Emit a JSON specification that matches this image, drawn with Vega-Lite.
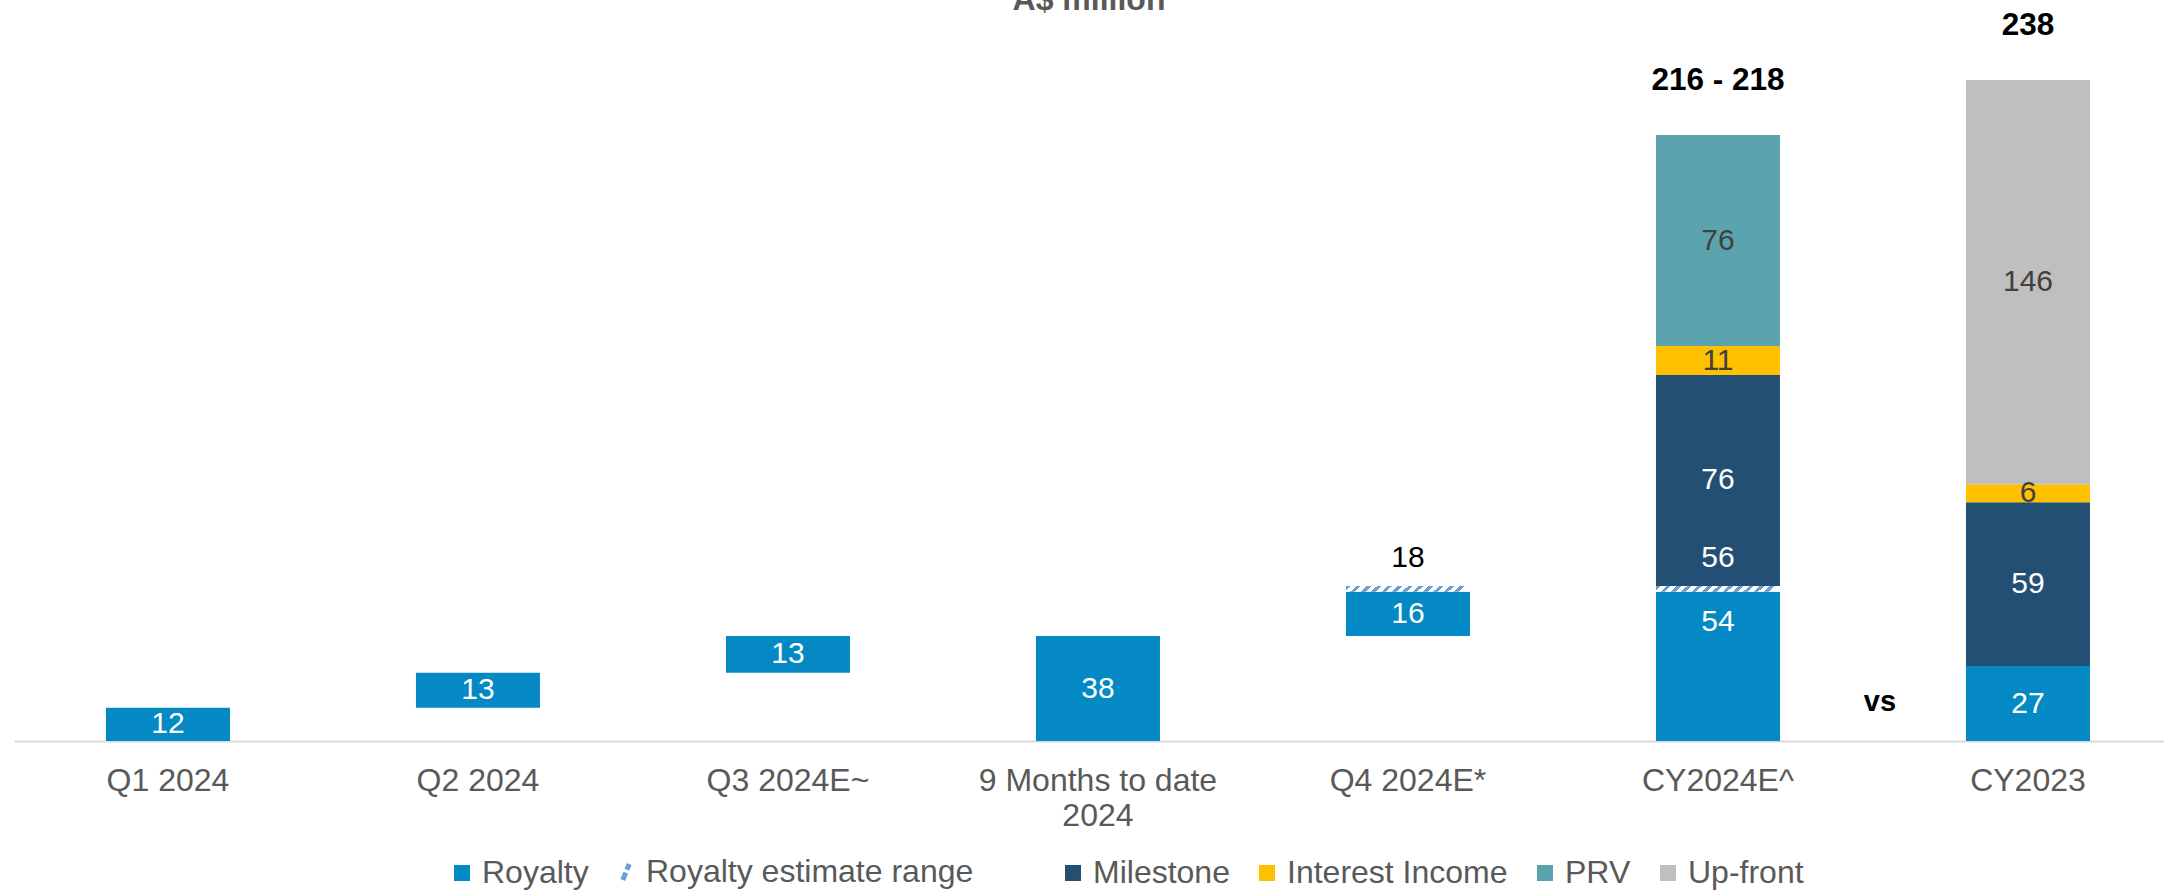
{
  "$schema": "https://vega.github.io/schema/vega-lite/v6.json",
  "width": 2150,
  "height": 741,
  "autosize": "none",
  "padding": {"left": 14, "top": 0, "right": 0, "bottom": 150},
  "title": {"text": "A$ million", "fontSize": 32, "font": "Liberation Sans", "fontWeight": "bold", "color": "#595959", "anchor": "middle", "offset": -17},
  "config": {"view": {"stroke": null}, "font": "Liberation Sans"},
  "datasets": {
    "bars": [
      {"cat": "Q1 2024", "series": "Royalty", "start": 0, "end": 12, "label": "12"},
      {"cat": "Q2 2024", "series": "Royalty", "start": 12, "end": 24.6, "label": "13"},
      {"cat": "Q3 2024E~", "series": "Royalty", "start": 24.6, "end": 37.8, "label": "13"},
      {"cat": "9 Months to date 2024", "series": "Royalty", "start": 0, "end": 37.8, "label": "38"},
      {"cat": "Q4 2024E*", "series": "Royalty", "start": 37.8, "end": 53.7, "label": "16"},
      {"cat": "CY2024E^", "series": "Royalty", "start": 0, "end": 53.7, "label": "54"},
      {"cat": "CY2024E^", "series": "Milestone", "start": 55.8, "end": 131.8, "label": "76"},
      {"cat": "CY2024E^", "series": "Interest Income", "start": 131.8, "end": 142.2, "label": "11"},
      {"cat": "CY2024E^", "series": "PRV", "start": 142.2, "end": 218.2, "label": "76"},
      {"cat": "CY2023", "series": "Royalty", "start": 0, "end": 27, "label": "27"},
      {"cat": "CY2023", "series": "Milestone", "start": 27, "end": 86, "label": "59"},
      {"cat": "CY2023", "series": "Interest Income", "start": 86, "end": 92.4, "label": "6"},
      {"cat": "CY2023", "series": "Up-front", "start": 92.4, "end": 238, "label": "146"}
    ],
    "range": [
      {"cat": "Q4 2024E*", "start": 53.7, "end": 55.8, "label": "18"},
      {"cat": "CY2024E^", "start": 53.7, "end": 55.8, "label": "56"}
    ],
    "totals": [
      {"cat": "CY2024E^", "value": 218.2, "label": "216 - 218"},
      {"cat": "CY2023", "value": 238, "label": "238"}
    ],
    "notes": [
      {"cat": "CY2023", "label": "vs"}
    ]
  },
  "encoding": {
    "x": {
      "field": "cat",
      "type": "nominal",
      "scale": {
        "domain": ["Q1 2024", "Q2 2024", "Q3 2024E~", "9 Months to date 2024", "Q4 2024E*", "CY2024E^", "CY2023"],
        "paddingInner": 0.6,
        "paddingOuter": 0.2677,
        "align": 0.554
      },
      "axis": {
        "title": null,
        "labelAngle": 0,
        "labelFontSize": 32,
        "labelColor": "#595959",
        "labelFont": "Liberation Sans",
        "ticks": false,
        "domainColor": "#D9D9D9",
        "domainWidth": 2,
        "labelPadding": 24,
        "labelLineHeight": 35,
        "labelLimit": 0,
        "labelExpr": "datum.value == '9 Months to date 2024' ? ['9 Months to date', '2024'] : datum.value"
      }
    }
  },
  "layer": [
    {
      "data": {"name": "bars"},
      "mark": {"type": "bar"},
      "encoding": {
        "y": {"field": "start", "type": "quantitative", "scale": {"domain": [0, 266.8], "nice": false}, "axis": null},
        "y2": {"field": "end"},
        "color": {
          "field": "series",
          "type": "nominal",
          "scale": {
            "domain": ["Royalty", "Royalty estimate range", "Milestone", "Interest Income", "PRV", "Up-front"],
            "range": ["#0489C4", "#6A9FD5", "#234F75", "#FFC000", "#5BA3AF", "#BFBFBF"]
          },
          "legend": {
            "title": null,
            "orient": "none",
            "direction": "horizontal",
            "legendX": 432,
            "legendY": 856,
            "symbolType": "square",
            "symbolSize": 256,
            "symbolStrokeWidth": 0,
            "labelFontSize": 32,
            "labelFont": "Liberation Sans",
            "labelColor": "#595959",
            "labelOffset": 4,
            "columnPadding": 21,
            "labelLimit": 0,
            "labelExpr": "datum.value == 'Royalty estimate range' ? datum.label + '\u00a0\u00a0\u00a0\u00a0\u00a0\u00a0\u00a0\u200b' : datum.label",
            "encode": {
              "symbols": {
                "update": {
                  "shape": {"signal": "datum.value === 'Royalty estimate range' ? 'M-0.4,1L0.4,-1' : 'square'"},
                  "strokeWidth": {"signal": "datum.value === 'Royalty estimate range' ? 5 : 0"},
                  "stroke": {"signal": "datum.value === 'Royalty estimate range' ? '#6A9FD5' : 'transparent'"},
                  "strokeDash": {"signal": "datum.value === 'Royalty estimate range' ? [8, 3] : [1, 0]"},
                  "fillOpacity": {"signal": "datum.value === 'Royalty estimate range' ? 0 : 1"}
                }
              }
            }
          }
        }
      }
    },
    {
      "data": {"name": "range"},
      "mark": {
        "type": "bar",
        "fill": {
          "gradient": "linear", "x1": 0, "y1": 0, "x2": 1, "y2": 0.05,
          "stops": [
            {"offset": 0, "color": "#6A9FD5"}, {"offset": 0.0375, "color": "#6A9FD5"}, {"offset": 0.0375, "color": "#FFFFFF"}, {"offset": 0.0833, "color": "#FFFFFF"},
            {"offset": 0.0833, "color": "#6A9FD5"}, {"offset": 0.1208, "color": "#6A9FD5"}, {"offset": 0.1208, "color": "#FFFFFF"}, {"offset": 0.1667, "color": "#FFFFFF"},
            {"offset": 0.1667, "color": "#6A9FD5"}, {"offset": 0.2042, "color": "#6A9FD5"}, {"offset": 0.2042, "color": "#FFFFFF"}, {"offset": 0.25, "color": "#FFFFFF"},
            {"offset": 0.25, "color": "#6A9FD5"}, {"offset": 0.2875, "color": "#6A9FD5"}, {"offset": 0.2875, "color": "#FFFFFF"}, {"offset": 0.3333, "color": "#FFFFFF"},
            {"offset": 0.3333, "color": "#6A9FD5"}, {"offset": 0.3708, "color": "#6A9FD5"}, {"offset": 0.3708, "color": "#FFFFFF"}, {"offset": 0.4167, "color": "#FFFFFF"},
            {"offset": 0.4167, "color": "#6A9FD5"}, {"offset": 0.4542, "color": "#6A9FD5"}, {"offset": 0.4542, "color": "#FFFFFF"}, {"offset": 0.5, "color": "#FFFFFF"},
            {"offset": 0.5, "color": "#6A9FD5"}, {"offset": 0.5375, "color": "#6A9FD5"}, {"offset": 0.5375, "color": "#FFFFFF"}, {"offset": 0.5833, "color": "#FFFFFF"},
            {"offset": 0.5833, "color": "#6A9FD5"}, {"offset": 0.6208, "color": "#6A9FD5"}, {"offset": 0.6208, "color": "#FFFFFF"}, {"offset": 0.6667, "color": "#FFFFFF"},
            {"offset": 0.6667, "color": "#6A9FD5"}, {"offset": 0.7042, "color": "#6A9FD5"}, {"offset": 0.7042, "color": "#FFFFFF"}, {"offset": 0.75, "color": "#FFFFFF"},
            {"offset": 0.75, "color": "#6A9FD5"}, {"offset": 0.7875, "color": "#6A9FD5"}, {"offset": 0.7875, "color": "#FFFFFF"}, {"offset": 0.8333, "color": "#FFFFFF"},
            {"offset": 0.8333, "color": "#6A9FD5"}, {"offset": 0.8708, "color": "#6A9FD5"}, {"offset": 0.8708, "color": "#FFFFFF"}, {"offset": 0.9167, "color": "#FFFFFF"},
            {"offset": 0.9167, "color": "#6A9FD5"}, {"offset": 0.9542, "color": "#6A9FD5"}, {"offset": 0.9542, "color": "#FFFFFF"}, {"offset": 1, "color": "#FFFFFF"}
          ]
        }
      },
      "encoding": {
        "y": {"field": "start", "type": "quantitative", "scale": {"domain": [0, 266.8], "nice": false}, "axis": null},
        "y2": {"field": "end"}
      }
    },
    {
      "data": {"name": "bars"},
      "transform": [
        {"filter": "!(datum.cat == 'CY2024E^' && datum.series == 'Royalty')"},
        {"calculate": "(datum.start + datum.end) / 2", "as": "mid"}
      ],
      "mark": {"type": "text", "fontSize": 30, "font": "Liberation Sans", "baseline": "middle"},
      "encoding": {
        "y": {"field": "mid", "type": "quantitative", "scale": {"domain": [0, 266.8], "nice": false}, "axis": null},
        "text": {"field": "label"},
        "color": {"condition": {"test": "datum.series == 'Royalty' || datum.series == 'Milestone'", "value": "#FFFFFF"}, "value": "#404040"}
      }
    },
    {
      "data": {"name": "bars"},
      "transform": [
        {"filter": "datum.cat == 'CY2024E^' && datum.series == 'Royalty'"}
      ],
      "mark": {"type": "text", "fontSize": 30, "font": "Liberation Sans", "baseline": "middle", "dy": 30, "color": "#FFFFFF"},
      "encoding": {
        "y": {"field": "end", "type": "quantitative", "scale": {"domain": [0, 266.8], "nice": false}, "axis": null},
        "text": {"field": "label"}
      }
    },
    {
      "data": {"name": "range"},
      "mark": {"type": "text", "fontSize": 30, "font": "Liberation Sans", "baseline": "middle", "dy": -28},
      "encoding": {
        "y": {"field": "end", "type": "quantitative", "scale": {"domain": [0, 266.8], "nice": false}, "axis": null},
        "text": {"field": "label"},
        "color": {"condition": {"test": "datum.cat == 'CY2024E^'", "value": "#FFFFFF"}, "value": "#000000"}
      }
    },
    {
      "data": {"name": "totals"},
      "mark": {"type": "text", "fontSize": 31.5, "font": "Liberation Sans", "fontWeight": "bold", "baseline": "middle", "dy": -54, "color": "#000000"},
      "encoding": {
        "y": {"field": "value", "type": "quantitative", "scale": {"domain": [0, 266.8], "nice": false}, "axis": null},
        "text": {"field": "label"}
      }
    },
    {
      "data": {"name": "notes"},
      "mark": {"type": "text", "fontSize": 29, "font": "Liberation Sans", "fontWeight": "bold", "baseline": "middle", "dx": -148, "dy": -39, "color": "#000000"},
      "encoding": {
        "y": {"datum": 0, "type": "quantitative", "scale": {"domain": [0, 266.8], "nice": false}, "axis": null},
        "text": {"field": "label"}
      }
    }
  ]
}
